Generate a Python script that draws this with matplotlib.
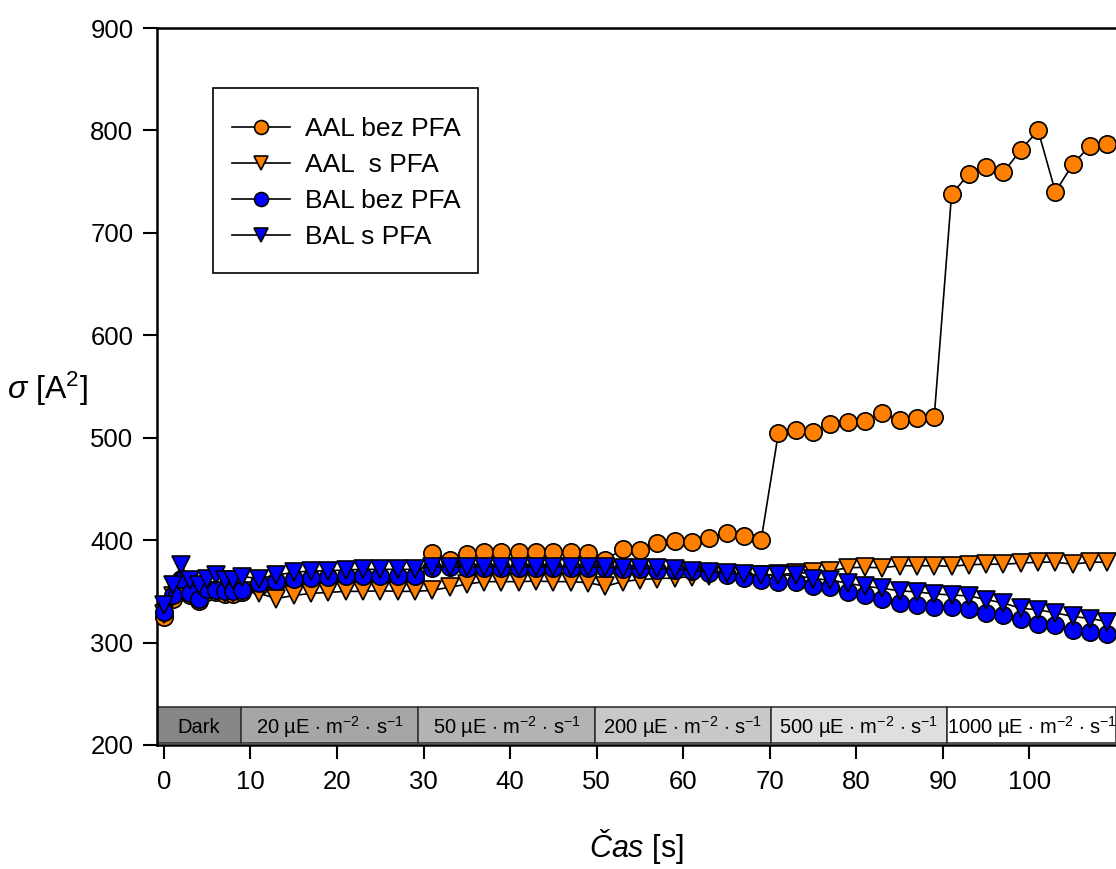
import matplotlib
matplotlib.use("Agg")
import matplotlib.pyplot as plt
from matplotlib.patches import Rectangle

plt.rcParams['font.family'] = ['Liberation Sans', 'DejaVu Sans']
plt.rcParams['mathtext.fontset'] = 'custom'
plt.rcParams['mathtext.rm'] = 'Liberation Sans'
plt.rcParams['mathtext.it'] = 'Liberation Sans:italic'
plt.rcParams['mathtext.bf'] = 'Liberation Sans:bold'

# ---- data ----
time_s = [0, 1, 2, 3, 4, 5, 6, 7, 8, 9,
          11, 13, 15, 17, 19, 21, 23, 25, 27, 29,
          31, 33, 35, 37, 39, 41, 43, 45, 47, 49,
          51, 53, 55, 57, 59, 61, 63, 65, 67, 69,
          71, 73, 75, 77, 79, 81, 83, 85, 87, 89,
          91, 93, 95, 97, 99, 101, 103, 105, 107, 109]

aal_bez_pfa = [325, 343, 358, 346, 341, 349, 349, 347, 347, 349,
               355, 358, 360, 361, 362, 362, 363, 363, 363, 363,
               387, 381, 386.5, 388, 388.5, 388, 388.5, 388, 388, 387,
               381, 391, 390, 397, 399.5, 398.5, 402, 406.5, 404, 400,
               505, 508, 506, 513, 515, 516, 524, 517, 519, 520.5,
               737.5, 757.5, 764.5, 759, 781, 800, 740, 767, 785, 787]

aal_s_pfa = [328, 345, 355, 350, 345, 348, 350, 348, 348, 350,
             348, 343, 346, 348, 349, 350, 350, 350.5, 350, 350,
             351, 354, 357, 359.5, 359.5, 359.5, 360, 359.5, 359.5, 358.5,
             355, 359.5, 361.5, 362.5, 363, 364.5, 365, 365.5, 366, 366,
             366.5, 367.5, 368.5, 370, 373, 373.5, 373, 375, 375, 375,
             374.5, 376, 376.5, 376.5, 377.5, 378.5, 378.5, 376.5, 378.5, 378.5]

bal_bez_pfa = [330, 346, 362, 348, 343, 352, 351, 350, 350, 351,
               358, 360.5, 362.5, 363.5, 364.5, 365, 365, 365, 365, 365,
               373, 373.5, 373, 373, 373, 373, 373, 373, 373, 373,
               372.5, 371.5, 371.5, 371, 371, 370, 367.5, 366, 363, 361.5,
               359.5, 359.5, 355, 354, 349.5, 346.5, 343, 339, 336.5, 334.5,
               334.5, 332.5, 328.5, 327, 323.5, 318.5, 317, 312.5, 310.5, 308.5]

bal_s_pfa = [337, 356, 375.5, 361, 356, 362.5, 366, 361.5, 361.5, 364.5,
             362.5, 366, 368.5, 370, 370, 371, 371.5, 371.5, 371.5, 371.5,
             374, 374, 374, 374, 374, 374, 374, 374, 374, 373.5,
             373.5, 372.5, 372.5, 372.5, 372, 370, 369, 368, 367, 366,
             366, 365.5, 362.5, 361, 358, 355, 353, 350.5, 349.5, 347.5,
             346.5, 345.5, 342, 338.5, 333.5, 332, 329, 325.5, 323.5, 320.5]

series_labels = ['AAL bez PFA', 'AAL  s PFA', 'BAL bez PFA', 'BAL s PFA']

# light periods (start/end times) and their labels
period_edges = [-0.8, 8.85, 29.4, 49.8, 70.1, 90.5, 110.0]
period_labels = ['Dark',
                 r'20 µE $\cdot$ m$^{-2}$ $\cdot$ s$^{-1}$',
                 r'50 µE $\cdot$ m$^{-2}$ $\cdot$ s$^{-1}$',
                 r'200 µE $\cdot$ m$^{-2}$ $\cdot$ s$^{-1}$',
                 r'500 µE $\cdot$ m$^{-2}$ $\cdot$ s$^{-1}$',
                 r'1000 µE $\cdot$ m$^{-2}$ $\cdot$ s$^{-1}$']
period_colors = ['#868686', '#a6a6a6', '#b3b3b3', '#c8c8c8', '#dfdfdf', '#ffffff']

x_ticks = [0, 10, 20, 30, 40, 50, 60, 70, 80, 90, 100]
y_ticks = [200, 300, 400, 500, 600, 700, 800, 900]

# ---- figure ----
W, H = 1116, 869
fig = plt.figure(figsize=(W / 100, H / 100), dpi=100)
ax = fig.add_axes([157 / W, 1 - 745 / H, (W - 157) / W, (745 - 28) / H])

ax.set_xlim(period_edges[0], period_edges[-1])
ax.set_ylim(200, 900)

orange = '#ff8000'
blue = '#0000ff'
styles = [('o', orange), ('v', orange), ('o', blue), ('v', blue)]
all_series = [aal_bez_pfa, aal_s_pfa, bal_bez_pfa, bal_s_pfa]
for i, (vals, (mk, col), lab) in enumerate(zip(all_series, styles, series_labels)):
    ax.plot(time_s, vals, '-', color='black', lw=1.2, marker=mk, markersize=12.5,
            markerfacecolor=col, markeredgecolor='black', markeredgewidth=1.2,
            label=lab, zorder=3 + i, clip_on=False)

# light-period band
band_lo, band_hi = 202, 237
for j, lab in enumerate(period_labels):
    x0, x1 = period_edges[j], period_edges[j + 1]
    ax.add_patch(Rectangle((x0, band_lo), x1 - x0, band_hi - band_lo,
                           facecolor=period_colors[j], edgecolor='#333333',
                           lw=1.2, zorder=2))
    ax.text((x0 + x1) / 2, (band_lo + band_hi) / 2 - 2, lab, ha='center', va='center',
            fontsize=14.5, zorder=3)

ax.set_xticks(x_ticks)
ax.set_yticks(y_ticks)
ax.tick_params(axis='both', direction='out', length=10, width=1.5, labelsize=18.5)
ax.tick_params(axis='x', pad=8)
ax.tick_params(axis='y', pad=7)
for s in ['left', 'bottom', 'top']:
    ax.spines[s].set_linewidth(1.8)
ax.spines['right'].set_visible(False)

ax.set_xlabel(r'$\mathit{Čas}$ [s]', fontsize=22, labelpad=24)
ax.set_ylabel(r'$\sigma$ [A$^{2}$]', fontsize=23, rotation=0, va='center')
ax.yaxis.set_label_coords(-0.114, 0.497)

# legend frame drawn separately so its padding matches the original
ax.add_patch(Rectangle((0.0584, 0.6583), 0.2763, 0.258, transform=ax.transAxes,
                       facecolor='white', edgecolor='black', lw=1.2, zorder=10))
leg = ax.legend(loc='upper left', bbox_to_anchor=(0.0777, 0.8753), borderaxespad=0,
                fontsize=19, frameon=False, handlelength=2.2, handletextpad=0.6,
                labelspacing=0.45, borderpad=0.0, markerscale=0.8)
leg.set_zorder(11)

fig.savefig('out.png', dpi=100)
